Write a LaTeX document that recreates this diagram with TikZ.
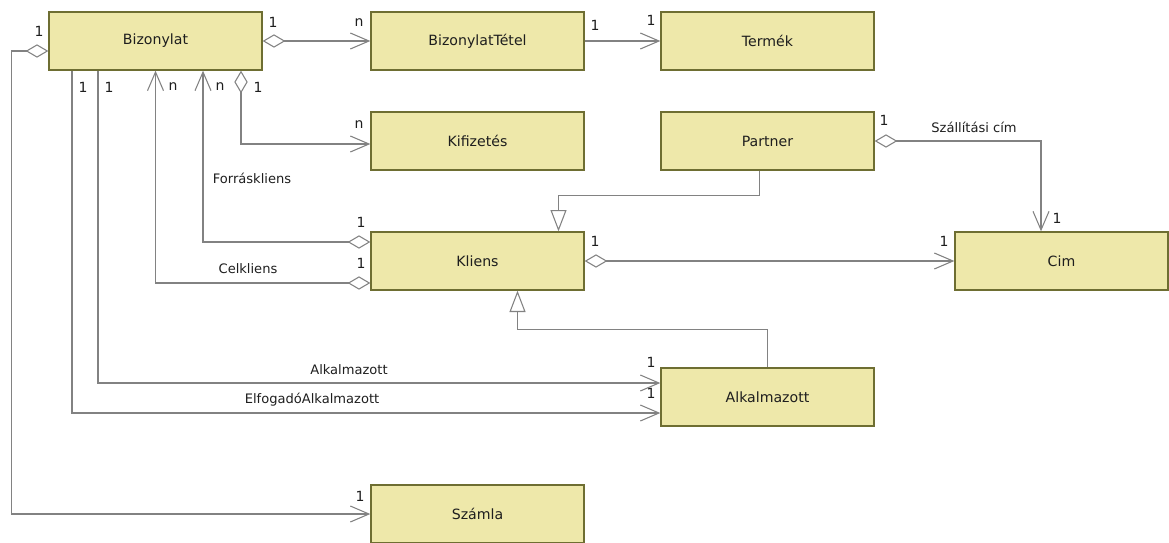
\documentclass[tikz,border=0pt]{standalone}
\usepackage{fontspec}
\setmainfont{DejaVu Sans}
\usetikzlibrary{arrows.meta,calc}
\definecolor{boxfill}{RGB}{238,232,170}
\definecolor{boxline}{RGB}{110,110,50}
\definecolor{connline}{RGB}{130,130,130}
\definecolor{txt}{RGB}{30,30,30}

\begin{document}
\begin{tikzpicture}[x=0.75pt,y=-0.75pt,
		entity/.style={draw=boxline,fill=boxfill,line width=1pt,minimum width=159.75pt,minimum height=43.5pt,inner sep=0pt,text=txt,font=\fontsize{10.6}{12}\selectfont},
		conn/.style={draw=connline,line width=0.8pt},
		assoc/.style={conn,-{Straight Barb[length=14pt,width=12pt]}},
		aggr/.style={conn,{Diamond[open,length=17pt,width=10pt]}-{Straight Barb[length=14pt,width=12pt]}},
		inherit/.style={conn,-{Triangle[open,length=16pt,width=12pt]}},
		mult/.style={text=txt,font=\fontsize{10.5}{12}\selectfont,inner sep=0pt},
		role/.style={text=txt,font=\fontsize{9.8}{12}\selectfont,inner sep=0pt}]
			\useasboundingbox (0,0) rectangle (1169,542);
			\node[entity] (bizonylat) at (155.5,41) {Bizonylat};
			\node[entity] (tetel) at (477.5,41) {BizonylatTétel};
			\node[entity] (termek) at (767.5,41) {Termék};
			\node[entity] (kifizetes) at (477.5,141) {Kifizetés};
			\node[entity] (partner) at (767.5,141) {Partner};
			\node[entity] (kliens) at (477.5,261) {Kliens};
			\node[entity] (cim) at (1061.5,261) {Cim};
			\node[entity] (alkalmazott) at (767.5,397) {Alkalmazott};
			\node[entity] (szamla) at (477.5,514) {Számla};
			% kapcsolatok
			\draw[aggr] (bizonylat.east)--(tetel.west);
			\draw[assoc] (tetel.east)--(termek.west);
			\draw[aggr] ($(bizonylat.south)+(85.5,0)$)|-($(kifizetes.west)+(0,3)$);
			\draw[aggr] ($(kliens.west)+(0,-19)$)-|($(bizonylat.south)+(47.5,0)$);
			\draw[aggr] ($(kliens.west)+(0,22)$)-|(bizonylat.south);
			\draw[assoc] ($(bizonylat.south)+(-57.5,0)$)|-($(alkalmazott.west)+(0,-14)$);
			\draw[assoc] ($(bizonylat.south)+(-83.5,0)$)|-($(alkalmazott.west)+(0,16)$);
			\draw[aggr] ($(bizonylat.west)+(0,10)$)--++(-37,0)|-(szamla.west);
			\draw[aggr] (kliens.east)--(cim.west);
			\draw[aggr] (partner.east)-|($(cim.north)+(-20.5,0)$);
			% oroklodes
			\draw[inherit] ($(partner.south)+(-8,0)$)--++(0,25)-|($(kliens.north)+(81,0)$);
			\draw[inherit] (alkalmazott.north)--++(0,-38)-|($(kliens.south)+(40,0)$);
			\path
			(39,31) node[mult] (m1) {1}
			(273,22) node[mult] (m2) {1}
			(359,23) node[mult] (m3) {n}
			(595,25) node[mult] (m4) {1}
			(651,20) node[mult] (m5) {1}
			(83,87) node[mult] (m6) {1}
			(109,87) node[mult] (m7) {1}
			(173,87) node[mult] (m8) {n}
			(220,87) node[mult] (m9) {n}
			(258,87) node[mult] (m10) {1}
			(359,125) node[mult] (m11) {n}
			(361,222) node[mult] (m12) {1}
			(361,263) node[mult] (m13) {1}
			(595,241) node[mult] (m14) {1}
			(944,241) node[mult] (m15) {1}
			(884,120) node[mult] (m16) {1}
			(1057,218) node[mult] (m17) {1}
			(651,362) node[mult] (m18) {1}
			(651,393) node[mult] (m19) {1}
			(360,496) node[mult] (m20) {1}
			;
			\path
			(252,178) node[role] (r1) {Forráskliens}
			(248,269) node[role] (r2) {Celkliens}
			(349,370) node[role] (r3) {Alkalmazott}
			(312,400) node[role] (r4) {ElfogadóAlkalmazott}
			(974,127) node[role] (r5) {Szállítási cím}
			;
		\end{tikzpicture}
\end{document}
